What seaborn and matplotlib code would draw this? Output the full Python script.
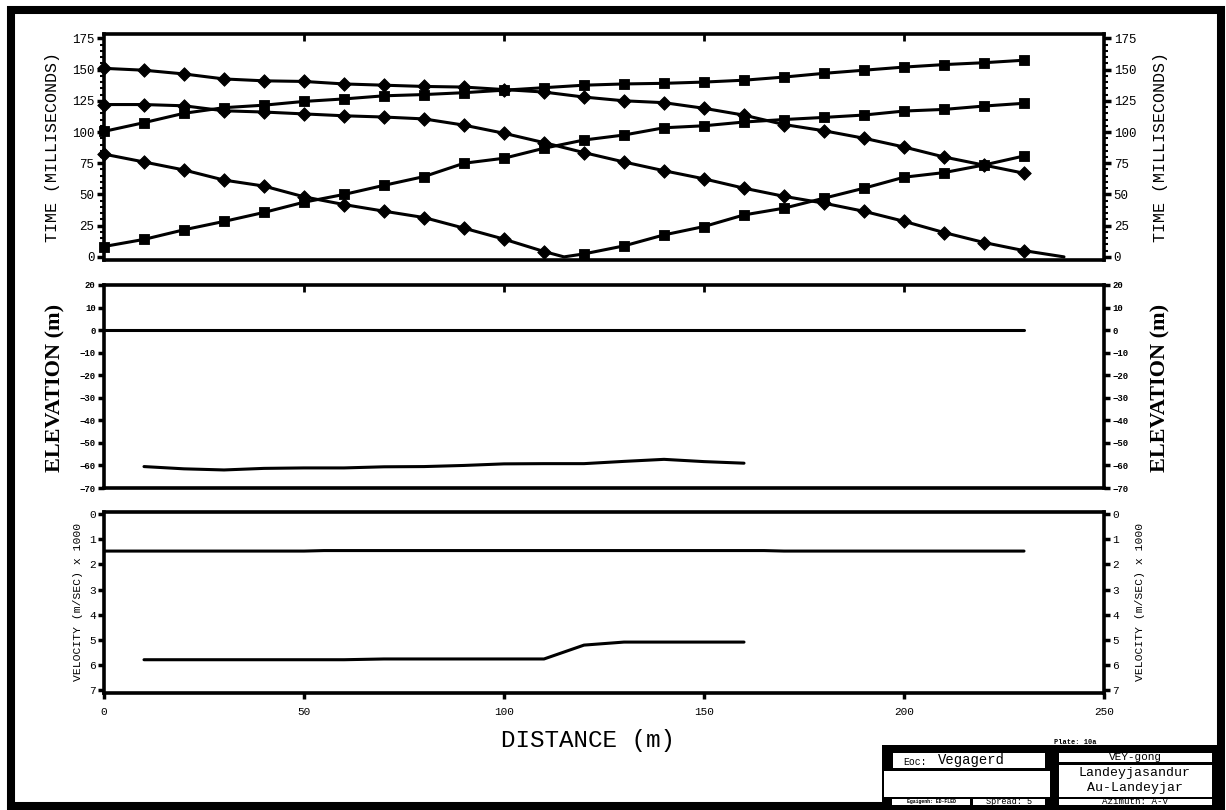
import matplotlib
matplotlib.use("Agg")
import matplotlib.pyplot as plt
import pandas as pd
import seaborn as sns
from matplotlib.patches import Rectangle
from matplotlib.ticker import MultipleLocator, FixedLocator

# ---------------- data ----------------
# geophone positions along the spread (m)
geophone_x = [0, 10, 20, 30, 40, 50, 60, 70, 80, 90, 100, 110,
              120, 130, 140, 150, 160, 170, 180, 190, 200, 210, 220, 230]

# first-arrival times (ms)
time_rev_far = [151, 149.5, 146.5, 142.5, 141, 140.5, 138.5, 137.5, 136.5, 136, 134, 132,
                128, 125, 123.5, 119, 113.5, 106, 101, 95, 88, 80, 73.5, 67]
time_rev_near = [122, 122, 121, 117, 116, 114.5, 113, 112, 110.5, 105.5, 99, 91.5,
                 83.5, 76, 69, 62.5, 55, 48.5, 43, 36.5, 28.5, 19.5, 11.5, 5]
time_fwd_far = [100.5, 107.5, 115, 119.5, 121.5, 124.5, 126.5, 129, 130, 131.5, 133.5, 135.5,
                137.5, 138.5, 139, 140, 141.5, 144, 147, 149.5, 152, 154, 155.5, 157.5]
time_fwd_near = [8.3, 14, 21.7, 28.4, 35.6, 43.8, 50, 57.3, 64.3, 75, 79, 87,
                 93.6, 97.6, 103.4, 105, 108, 110, 111.7, 113.6, 116.8, 118.1, 120.8, 123]

# split-spread shot in the middle of the line
mid_rev_x = [0, 10, 20, 30, 40, 50, 60, 70, 80, 90, 100, 110]
time_mid_rev = [82.3, 76, 69.6, 61.5, 56.7, 48.1, 41.9, 36.6, 31.5, 23, 14.2, 4.3]
mid_fwd_x = [120, 130, 140, 150, 160, 170, 180, 190, 200, 210, 220, 230]
time_mid_fwd = [2.4, 8.8, 17.6, 24.3, 33.6, 39, 47, 55, 63.8, 67.5, 73.6, 80.8]

shot_mid_x = 115
shot_end_x = 240
shot_time = 0

# elevation model (m)
surface_x = [0, 230]
surface_elev = [0, 0]
refractor_x = [10, 20, 30, 40, 50, 60, 70, 80, 90, 100, 110, 120, 130, 140, 150, 160]
refractor_elev = [-60.5, -61.5, -62, -61.3, -61.1, -61.1, -60.6, -60.5, -60, -59.3,
                  -59.2, -59.2, -58.2, -57.3, -58.3, -59]

# layer velocities (km/s)
vel1_x = [0, 50, 55, 165, 170, 230]
vel1 = [1.47, 1.47, 1.45, 1.45, 1.47, 1.47]
vel2_x = [10, 60, 70, 110, 120, 130, 160]
vel2 = [5.78, 5.78, 5.75, 5.75, 5.2, 5.08, 5.08]

x_ticks = [0, 50, 100, 150, 200, 250]
time_ticks = [0, 25, 50, 75, 100, 125, 150, 175]
elev_ticks = [-70, -60, -50, -40, -30, -20, -10, 0, 10, 20]
vel_ticks = [0, 1, 2, 3, 4, 5, 6, 7]

# ---------------- style ----------------
sns.set_theme(style="white")
plt.rcParams["font.family"] = ["Liberation Mono", "DejaVu Sans Mono"]
plt.rcParams["axes.edgecolor"] = "black"
plt.rcParams["text.color"] = "black"
plt.rcParams["xtick.color"] = "black"
plt.rcParams["ytick.color"] = "black"

W, H = 1226, 810
fig = plt.figure(figsize=(W / 100, H / 100), dpi=100)
fig.patch.set_facecolor("white")


def px_axes(left, top, right, bottom):
    return fig.add_axes([left / W, 1 - bottom / H, (right - left) / W, (bottom - top) / H])


def px_rect(x0, y0, x1, y1, **kw):
    fig.patches.append(Rectangle((x0 / W, 1 - y1 / H), (x1 - x0) / W, (y1 - y0) / H,
                                 transform=fig.transFigure, **kw))


def px_text(x, y, s, **kw):
    fig.text(x / W, 1 - y / H, s, **kw)


LW = 2.2
SPINE = 2.6


def frame(ax):
    for sp in ax.spines.values():
        sp.set_linewidth(SPINE)
        sp.set_color("black")
    ax.set_xlim(0, 250)
    ax.set_xlabel("")
    ax.set_ylabel("")
    ax.grid(False)


def polyline(ax, x, y, marker=None):
    df = pd.DataFrame({"x": x, "y": y})
    sns.lineplot(data=df, x="x", y="y", ax=ax, color="black", lw=LW,
                 estimator=None, sort=False, legend=False)
    if marker is not None:
        sns.scatterplot(data=df, x="x", y="y", ax=ax, color="black", marker=marker,
                        s=48 if marker == "D" else 50, edgecolor="black", linewidth=0.6,
                        legend=False, zorder=3, clip_on=False)


# ---------------- travel-time panel ----------------
ax1 = px_axes(104, 34, 1104, 260)
polyline(ax1, geophone_x, time_rev_far, "D")
polyline(ax1, geophone_x, time_fwd_far, "s")
polyline(ax1, geophone_x, time_fwd_near, "s")
polyline(ax1, geophone_x, time_rev_near, "D")
polyline(ax1, [geophone_x[-1], shot_end_x], [time_rev_near[-1], shot_time])
polyline(ax1, mid_rev_x, time_mid_rev, "D")
polyline(ax1, [mid_rev_x[-1], shot_mid_x, mid_fwd_x[0]],
         [time_mid_rev[-1], shot_time, time_mid_fwd[0]])
polyline(ax1, mid_fwd_x, time_mid_fwd, "s")
frame(ax1)
ax1.set_ylim(-2.5, 178.5)
ax1.yaxis.set_major_locator(FixedLocator(time_ticks))
ax1.yaxis.set_minor_locator(MultipleLocator(5))
ax1.set_xticks([50, 100, 150, 200])
ax1.tick_params(axis="x", which="major", direction="in", top=True, bottom=False,
                labelbottom=False, length=5, width=2)
ax1.tick_params(axis="y", which="major", direction="out", left=True, right=True,
                labelleft=True, labelright=True, length=5, width=2.5, labelsize=9, pad=2)
ax1.tick_params(axis="y", which="minor", direction="out", left=True, right=True,
                length=3, width=1.5)

# ---------------- elevation panel ----------------
ax2 = px_axes(104, 285, 1104, 488)
polyline(ax2, surface_x, surface_elev)
polyline(ax2, refractor_x, refractor_elev)
frame(ax2)
ax2.set_ylim(-70, 20)
ax2.set_yticks(elev_ticks)
ax2.set_xticks([50, 100, 150, 200])
ax2.tick_params(axis="x", direction="in", top=True, bottom=False, labelbottom=False,
                length=5, width=2)
ax2.tick_params(axis="y", direction="out", left=True, right=True, labelleft=True,
                labelright=True, length=4, width=2.5, labelsize=6.5, pad=2)
for lbl in ax2.get_yticklabels():
    lbl.set_fontweight("bold")

# ---------------- velocity panel ----------------
ax3 = px_axes(104, 512, 1104, 693)
polyline(ax3, vel1_x, vel1)
polyline(ax3, vel2_x, vel2)
frame(ax3)
ax3.set_ylim(7.1, -0.08)
ax3.set_yticks(vel_ticks)
ax3.set_xticks(x_ticks)
ax3.tick_params(axis="x", direction="out", bottom=True, top=False, labelbottom=True,
                length=4, width=2.5, labelsize=8, pad=6)
ax3.tick_params(axis="y", direction="out", left=True, right=True, labelleft=True,
                labelright=True, length=4, width=2.5, labelsize=8, pad=2)

# ---------------- axis titles ----------------
px_text(52, 147, "TIME (MILLISECONDS)", rotation=90, ha="center", va="center", fontsize=12)
px_text(1160, 147, "TIME (MILLISECONDS)", rotation=90, ha="center", va="center", fontsize=12)
px_text(55, 388, "ELEVATION (m)", rotation=90, ha="center", va="center", fontsize=16,
        fontweight="bold", family=["Liberation Serif", "DejaVu Serif"])
px_text(1160, 388, "ELEVATION (m)", rotation=90, ha="center", va="center", fontsize=16,
        fontweight="bold", family=["Liberation Serif", "DejaVu Serif"])
px_text(78, 602, "VELOCITY (m/SEC) x 1000", rotation=90, ha="center", va="center",
        fontsize=8.2)
px_text(1140, 602, "VELOCITY (m/SEC) x 1000", rotation=90, ha="center", va="center",
        fontsize=8.2)
px_text(588, 741, "DISTANCE (m)", ha="center", va="center", fontsize=17.5)

# ---------------- outer frame ----------------
px_rect(11, 10, 1221, 806, fill=False, edgecolor="black", linewidth=5.8)

# ---------------- title block ----------------
px_rect(882, 745, 1217, 806, facecolor="black", edgecolor="none")
px_rect(893, 753, 1045, 768, facecolor="white", edgecolor="none")
px_rect(884, 771, 1050, 797, facecolor="white", edgecolor="none")
px_rect(892, 799, 970, 805, facecolor="white", edgecolor="none")
px_rect(973, 799, 1045, 805, facecolor="white", edgecolor="none")
px_rect(1059, 753, 1212, 762, facecolor="white", edgecolor="none")
px_rect(1059, 765, 1212, 797, facecolor="white", edgecolor="none")
px_rect(1059, 799, 1212, 805, facecolor="white", edgecolor="none")

px_text(1075, 742, "Plate: 10a", ha="center", va="center", fontsize=5, fontweight="bold")
px_text(903, 762, "Eoc:", ha="left", va="center", fontsize=7)
px_text(938, 760, "Vegagerd", ha="left", va="center", fontsize=10)
px_text(1135, 757, "VEY-gong", ha="center", va="center", fontsize=8)
px_text(1135, 773, "Landeyjasandur", ha="center", va="center", fontsize=9.5)
px_text(1135, 788, "Au-Landeyjar", ha="center", va="center", fontsize=9.5)
px_text(931, 802, "Egaigenh: ED-FLED", ha="center", va="center", fontsize=3.5,
        fontweight="bold")
px_text(1009, 802, "Spread: 5", ha="center", va="center", fontsize=6.2)
px_text(1135, 802, "Azimuth: A-V", ha="center", va="center", fontsize=6.7)

fig.savefig("out.png", dpi=100, facecolor="white")
